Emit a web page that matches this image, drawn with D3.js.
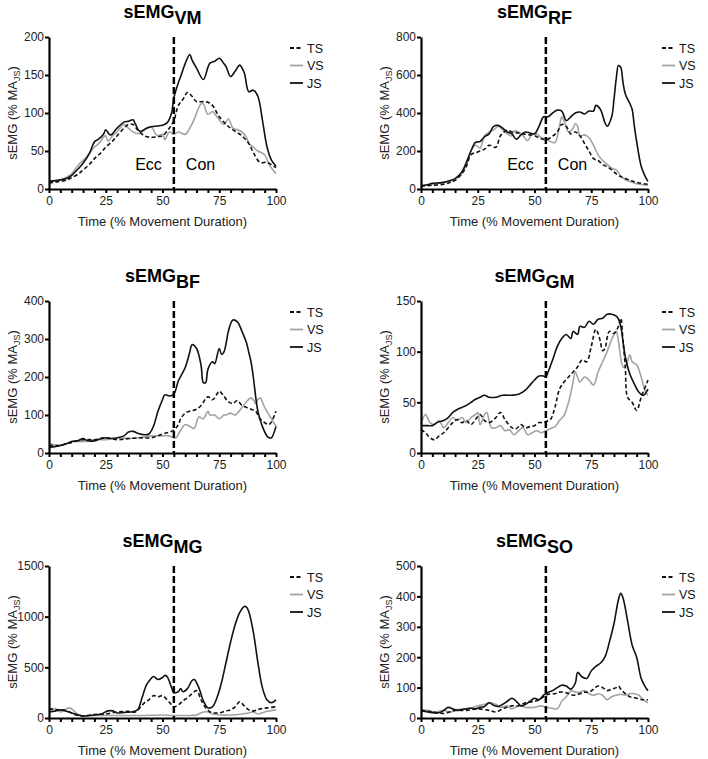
<!DOCTYPE html>
<html><head><meta charset="utf-8">
<script src="https://cdn.jsdelivr.net/npm/d3@7"></script>
<style>
body{margin:0;background:#fff;}
text{font-family:"Liberation Sans",Arial,Helvetica,sans-serif;}
</style></head>
<body><svg id="c" width="708" height="759"></svg>
<script>
// ---- data ----
const seriesNames = ["TS","VS","JS"];
const xTicks = [0,25,50,75,100];
const titles = ["sEMG","sEMG","sEMG","sEMG","sEMG","sEMG"];
const subs = ["VM","RF","BF","GM","MG","SO"];
const yMaxes = [200,800,400,150,1500,500];
const yTicksVM = [0,50,100,150,200];
const yTicksRF = [0,200,400,600,800];
const yTicksBF = [0,100,200,300,400];
const yTicksGM = [0,50,100,150];
const yTicksMG = [0,500,1000,1500];
const yTicksSO = [0,100,200,300,400,500];
const phaseX = 55;

const vmJS = [[0,10],[3,11],[5,12],[8,14],[10,18],[13,27],[15,34],[18,48],[20,62],[22,66],[24,72],[25,78],[27,71],[30,80],[33,88],[35,89],[37,91],[38,86],[40,76],[43,80],[45,82],[48,83],[50,84],[52,87],[54,100],[55,120],[57,140],[58,148],[60,165],[62,177],[63,170],[65,159],[68,144],[70,160],[71,166],[73,168],[75,172],[77,165],[78,161],[80,148],[82,155],[84,163],[86,153],[88,128],[90,130],[92,122],[94,91],[96,56],[98,38],[100,30]];
const vmTS = [[0,8],[3,9],[5,10],[8,12],[10,15],[13,20],[15,25],[18,33],[20,40],[23,48],[25,55],[28,63],[30,70],[33,80],[35,85],[37,85],[39,78],[42,70],[45,68],[48,69],[50,70],[53,80],[55,90],[57,110],[59,118],[61,127],[63,122],[65,115],[68,115],[70,114],[72,110],[75,95],[78,85],[80,80],[83,74],[85,70],[88,60],[90,48],[93,35],[96,35],[98,32],[100,28]];
const vmVS = [[0,10],[3,11],[5,12],[8,16],[10,20],[12,28],[14,35],[16,40],[18,48],[20,55],[22,60],[24,68],[25,70],[26,63],[28,70],[30,75],[33,85],[35,80],[37,75],[40,73],[43,80],[45,82],[47,72],[48,70],[50,72],[51,65],[53,75],[55,72],[57,75],[60,72],[62,80],[64,92],[65,100],[67,112],[68,112],[70,98],[72,102],[74,95],[77,85],[79,92],[81,80],[83,78],[85,75],[87,68],[88,60],[90,55],[92,50],[95,45],[97,32],[100,20]];

const rfJS = [[0,15],[3,22],[5,30],[8,32],[10,35],[13,45],[15,55],[18,90],[20,140],[22,200],[24,245],[26,250],[28,275],[30,290],[32,330],[34,335],[36,320],[38,300],[40,290],[42,262],[44,285],[46,300],[48,295],[50,290],[52,330],[54,380],[56,380],[58,400],[60,415],[62,410],[64,360],[66,380],[68,400],[70,405],[72,395],[74,410],[76,410],[77,440],[79,420],[81,350],[82,330],[84,380],[85,470],[86,580],[87,650],[88,640],[89,560],[90,500],[92,450],[93,420],[94,330],[95,250],[97,120],[99,60],[100,40]];
const rfTS = [[0,15],[5,20],[10,25],[13,35],[15,45],[18,80],[20,120],[22,180],[25,195],[28,210],[30,230],[33,220],[35,280],[38,310],[40,300],[43,295],[45,290],[48,285],[50,280],[53,265],[55,260],[57,270],[60,300],[62,340],[64,330],[66,290],[68,300],[70,280],[72,240],[74,200],[76,160],[78,150],[80,130],[83,110],[86,80],[88,65],[90,55],[93,42],[95,35],[98,28],[100,25]];
const rfVS = [[0,20],[5,25],[10,35],[13,42],[15,50],[18,80],[20,130],[22,200],[24,230],[26,215],[28,280],[30,300],[32,310],[34,330],[36,310],[38,290],[40,280],[41,305],[43,300],[45,280],[47,255],[49,290],[51,290],[53,270],[55,265],[57,250],[59,245],[61,330],[62,380],[63,360],[65,300],[67,320],[68,345],[69,330],[70,280],[72,285],[74,270],[76,230],[78,180],[80,150],[82,130],[84,110],[86,100],[88,70],[90,50],[93,35],[96,25],[100,20]];

const bfJS = [[0,15],[3,17],[5,20],[8,25],[10,30],[13,33],[15,38],[17,32],[20,32],[23,38],[25,40],[28,38],[30,40],[33,45],[35,55],[37,57],[39,52],[42,48],[44,50],[46,70],[48,110],[50,140],[51,153],[53,150],[55,155],[57,190],[60,225],[62,265],[63,285],[65,275],[67,230],[68,185],[69,185],[70,220],[72,240],[73,235],[75,275],[76,260],[77,265],[79,320],[80,340],[81,350],[83,345],[85,320],[87,290],[88,265],[89,240],[90,200],[92,110],[94,70],[96,45],[97,40],[98,40],[100,70]];
const bfTS = [[0,20],[5,20],[10,28],[15,35],[20,35],[25,40],[30,35],[35,38],[40,40],[45,40],[50,50],[53,55],[55,60],[57,75],[58,90],[60,105],[62,110],[65,115],[67,125],[70,148],[72,140],[74,155],[75,163],[77,150],[79,135],[81,130],[83,138],[85,125],[87,120],[89,115],[91,110],[93,90],[95,80],[97,75],[100,110]];
const bfVS = [[0,25],[5,20],[10,30],[15,30],[20,35],[25,35],[30,40],[35,38],[40,40],[45,45],[50,45],[53,45],[55,40],[56,40],[58,60],[60,75],[62,70],[64,65],[66,95],[68,90],[70,110],[71,100],[73,100],[75,90],[77,100],[78,100],[80,105],[82,100],[85,120],[87,135],[89,145],[90,140],[91,130],[92,140],[93,145],[95,120],[97,100],[100,70]];

const gmJS = [[0,27],[3,27],[5,27],[7,30],[10,32],[12,35],[14,40],[16,43],[18,45],[20,47],[22,50],[24,53],[26,55],[28,57],[30,55],[33,55],[36,57],[40,57],[43,58],[46,62],[48,67],[50,72],[52,76],[54,76],[55,75],[56,80],[58,92],[60,105],[62,113],[64,117],[66,113],[67,120],[69,117],[70,125],[72,124],[74,130],[76,127],[78,132],[80,133],[82,137],[84,137],[86,135],[87,132],[88,125],[89,110],[90,95],[92,78],[94,68],[96,60],[98,57],[100,63]];
const gmTS = [[0,23],[2,20],[4,15],[6,13],[8,17],[10,20],[12,25],[14,30],[16,33],[18,30],[20,32],[22,28],[24,33],[26,38],[28,32],[30,30],[33,35],[35,40],[37,33],[40,25],[42,24],[44,28],[46,25],[48,26],[50,27],[52,30],[54,30],[55,31],[57,33],[59,45],[61,63],[63,70],[65,75],[67,80],[69,85],[71,92],[73,90],[75,105],[77,122],[78,118],[79,110],[80,101],[81,103],[83,120],[85,118],[87,125],[88,133],[89,110],[90,85],[91,55],[93,50],[95,42],[97,55],[100,72]];
const gmVS = [[0,28],[1,35],[2,38],[4,30],[6,28],[8,32],[10,25],[12,30],[14,35],[16,32],[18,35],[20,30],[22,35],[24,38],[25,40],[26,28],[28,38],[29,40],[31,25],[33,25],[35,27],[37,22],[39,23],[41,18],[43,22],[45,25],[47,18],[49,20],[51,22],[53,20],[55,22],[57,24],[59,26],[61,32],[63,37],[65,50],[67,70],[68,80],[70,70],[72,75],[74,72],[76,67],[78,80],[80,90],[82,100],[84,112],[86,120],[87,110],[89,85],[90,85],[92,97],[93,90],[95,87],[97,75],[99,60],[100,57]];

const mgJS = [[0,60],[3,70],[5,80],[8,65],[10,50],[13,30],[15,20],[20,30],[23,40],[26,70],[28,70],[30,50],[33,55],[36,60],[39,80],[41,200],[43,330],[45,390],[46,410],[48,380],[50,400],[51,420],[52,410],[54,300],[55,250],[57,260],[58,290],[59,260],[61,290],[63,370],[64,380],[66,300],[68,170],[70,100],[72,110],[74,200],[76,350],[78,550],[80,750],[82,920],[84,1040],[86,1100],[87,1095],[88,1050],[90,850],[92,550],[94,300],[96,180],[98,150],[100,180]];
const mgTS = [[0,90],[3,80],[6,80],[9,60],[12,30],[15,20],[20,35],[25,40],[30,60],[35,65],[38,60],[40,100],[42,150],[44,180],[46,220],[48,210],[50,220],[52,180],[54,130],[55,110],[57,130],[59,170],[61,200],[63,240],[65,270],[67,180],[69,100],[71,60],[73,50],[75,50],[78,70],[80,80],[82,110],[84,160],[86,120],[88,80],[90,70],[93,90],[96,100],[100,110]];
const mgVS = [[0,90],[3,90],[5,60],[7,80],[9,100],[11,70],[13,30],[15,20],[20,25],[30,25],[40,25],[50,30],[55,25],[60,25],[65,30],[68,60],[70,60],[72,40],[75,30],[80,30],[85,40],[88,50],[90,60],[92,40],[95,60],[100,80]];

const soJS = [[0,25],[3,20],[6,17],[9,20],[12,35],[14,30],[16,25],[18,28],[20,30],[22,32],[24,30],[26,35],[28,38],[30,50],[32,42],[34,38],[36,45],[38,55],[40,65],[42,55],[44,40],[46,45],[48,55],[50,65],[52,60],[54,75],[56,85],[58,90],[60,100],[62,108],[64,105],[66,95],[68,115],[69,150],[71,135],[73,130],[75,155],[77,170],[79,180],[81,200],[83,250],[85,310],[87,390],[88,410],[89,395],[91,320],[93,240],[95,200],[97,130],[99,100],[100,90]];
const soTS = [[0,25],[5,20],[10,15],[15,25],[20,25],[25,30],[30,25],[33,20],[36,30],[40,40],[43,40],[46,50],[50,55],[52,60],[54,70],[55,75],[57,80],[59,80],[61,85],[63,85],[65,80],[67,75],[70,80],[72,85],[74,85],[76,95],[78,105],[80,100],[82,90],[84,95],[86,100],[87,105],[88,95],[90,80],[92,70],[95,65],[98,60],[100,60]];
const soVS = [[0,28],[3,25],[6,20],[10,25],[13,20],[16,28],[20,30],[23,35],[25,40],[28,45],[30,50],[33,45],[35,35],[38,40],[40,30],[43,40],[46,35],[50,35],[53,40],[55,35],[58,32],[60,30],[62,55],[64,70],[66,90],[68,85],[70,85],[72,90],[74,80],[76,75],[78,80],[80,75],[82,60],[84,70],[86,75],[88,78],[90,75],[92,80],[94,80],[96,75],[98,60],[100,50]];

// ---- layout ----
const panels = [
  {ts:vmTS, vs:vmVS, js:vmJS, yTicks:yTicksVM, phase:true},
  {ts:rfTS, vs:rfVS, js:rfJS, yTicks:yTicksRF, phase:true},
  {ts:bfTS, vs:bfVS, js:bfJS, yTicks:yTicksBF, phase:false},
  {ts:gmTS, vs:gmVS, js:gmJS, yTicks:yTicksGM, phase:false},
  {ts:mgTS, vs:mgVS, js:mgJS, yTicks:yTicksMG, phase:false},
  {ts:soTS, vs:soVS, js:soJS, yTicks:yTicksSO, phase:false}
];
const colLeft = [49, 421];
const rowTop = [37, 301, 566];
const W = 227, H = 152;
const styles = {
  TS:{stroke:"#111", dash:"4,2.5", width:1.6},
  VS:{stroke:"#a3a3a3", dash:null, width:1.6},
  JS:{stroke:"#111", dash:null, width:1.6}
};

const svg = d3.select("#c");
panels.forEach((p,i)=>{
  const left = colLeft[i%2], top = rowTop[Math.floor(i/2)];
  const g = svg.append("g").attr("transform",`translate(${left},${top})`);
  const x = d3.scaleLinear().domain([0,100]).range([0,W]);
  const y = d3.scaleLinear().domain([0,yMaxes[i]]).range([H,0]);

  // title
  const t = g.append("text").attr("x",W/2).attr("y",-19).attr("text-anchor","middle")
    .attr("font-weight","bold").attr("font-size",18).attr("fill","#000");
  t.append("tspan").text(titles[i]);
  t.append("tspan").attr("dy",6).text(subs[i]);

  // lines
  const line = d3.line().x(d=>x(d[0])).y(d=>y(d[1])).curve(d3.curveCatmullRom.alpha(0.5));
  [["VS",p.vs],["TS",p.ts],["JS",p.js]].forEach(([n,data])=>{
    const s = styles[n];
    g.append("path").datum(data).attr("d",line).attr("fill","none")
      .attr("stroke",s.stroke).attr("stroke-width",s.width)
      .attr("stroke-dasharray",s.dash).attr("stroke-linejoin","round");
  });

  // phase line
  g.append("line").attr("x1",x(phaseX)).attr("x2",x(phaseX)).attr("y1",y(yMaxes[i])).attr("y2",H)
    .attr("stroke","#000").attr("stroke-width",2.5).attr("stroke-dasharray","7,3");
  if(p.phase){
    g.append("text").attr("x",x(phaseX)-12).attr("y",H-19).attr("text-anchor","end")
      .attr("font-size",16).text("Ecc");
    g.append("text").attr("x",x(phaseX)+12).attr("y",H-19).attr("text-anchor","start")
      .attr("font-size",16).text("Con");
  }

  // axes
  const xa = d3.axisBottom(x).tickValues(d3.range(0,101,5)).tickSize(4).tickSizeOuter(0).tickPadding(3)
    .tickFormat(d=> xTicks.includes(d) ? d : "");
  const gx = g.append("g").attr("transform",`translate(0,${H})`).call(xa);
  const ya = d3.axisLeft(y).tickValues(p.yTicks).tickSize(4).tickSizeOuter(0).tickPadding(1)
    .tickFormat(d3.format("d"));
  const gy = g.append("g").call(ya);
  [gx,gy].forEach(a=>{
    a.select(".domain").attr("stroke","#000").attr("stroke-width",2.2);
    a.selectAll(".tick line").attr("stroke","#000").attr("stroke-width",2);
    a.selectAll(".tick text").attr("font-size",12).attr("fill","#222")
      .attr("font-family","'Liberation Sans',Arial,sans-serif");
  });

  // axis titles
  g.append("text").attr("x",W/2).attr("y",H+37).attr("text-anchor","middle")
    .attr("font-size",13).attr("fill","#222").text("Time (% Movement Duration)");
  const yl = g.append("text").attr("transform",`translate(-32,${H/2}) rotate(-90)`)
    .attr("text-anchor","middle").attr("font-size",13).attr("fill","#222");
  yl.append("tspan").text("sEMG (% MA");
  yl.append("tspan").attr("font-size",9).attr("dy",3).text("JS");
  yl.append("tspan").attr("dy",-3).text(")");

  // legend
  seriesNames.forEach((n,k)=>{
    const s = styles[n];
    const ly = 11 + k*17.5;
    g.append("line").attr("x1",W+14).attr("x2",W+27).attr("y1",ly).attr("y2",ly)
      .attr("stroke",s.stroke).attr("stroke-width",s.width+0.2).attr("stroke-dasharray",s.dash);
    g.append("text").attr("x",W+31).attr("y",ly+4.5).attr("font-size",12.5).attr("fill","#111").text(n);
  });
});
</script></body></html>
